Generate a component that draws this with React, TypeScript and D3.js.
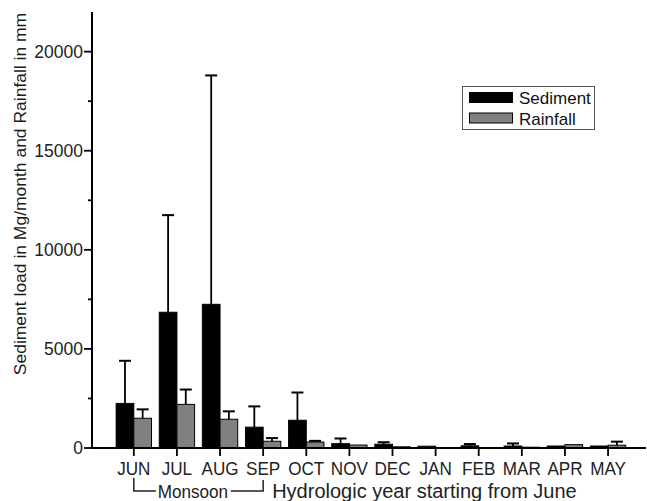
import { useEffect, useRef } from 'react';
import * as d3 from 'd3';

const months = ['JUN', 'JUL', 'AUG', 'SEP', 'OCT', 'NOV', 'DEC', 'JAN', 'FEB', 'MAR', 'APR', 'MAY'];
const sediment = [2250, 6850, 7250, 1050, 1400, 220, 190, 90, 110, 100, 100, 100];
const sedimentSD = [2150, 4900, 11550, 1050, 1400, 260, 100, 0, 90, 130, 0, 0];
const rainfall = [1500, 2200, 1450, 340, 300, 150, 60, 20, 20, 40, 170, 140];
const rainfallSD = [450, 750, 400, 160, 60, 0, 0, 0, 0, 0, 0, 180];
const yTicks = [0, 5000, 10000, 15000, 20000];
const yMinor = [2500, 7500, 12500, 17500];

const W = 647;
const H = 501;
const FONT = '"Liberation Sans", Arial, Helvetica, sans-serif';

export default function App() {
  const ref = useRef<SVGSVGElement | null>(null);
  useEffect(() => {
    const svg = d3.select(ref.current!);
    svg.selectAll('*').remove();
    svg.attr('viewBox', `0 0 ${W} ${H}`);

    const left = 92, right = 646, top = 12, bottom = 448;
    const x = d3.scaleLinear().domain([0.03, 12.88]).range([left, right]);
    const y = d3.scaleLinear().domain([0, 22000]).range([bottom, top]);
    const step = x(2) - x(1);
    const bw = step * 0.41;

    const rows = months.map((m, i) => ({ m, i: i + 1, sed: sediment[i], sedSD: sedimentSD[i], rain: rainfall[i], rainSD: rainfallSD[i] }));

    // bars
    const g = svg.append('g');
    g.selectAll('rect.sed').data(rows).enter().append('rect').attr('class', 'sed')
      .attr('x', (d) => x(d.i) - bw).attr('width', bw)
      .attr('y', (d) => y(d.sed)).attr('height', (d) => bottom - y(d.sed))
      .attr('fill', '#000').attr('stroke', '#000').attr('stroke-width', 1);
    g.selectAll('rect.rain').data(rows).enter().append('rect').attr('class', 'rain')
      .attr('x', (d) => x(d.i)).attr('width', bw)
      .attr('y', (d) => y(d.rain)).attr('height', (d) => bottom - y(d.rain))
      .attr('fill', '#808080').attr('stroke', '#000').attr('stroke-width', 1);

    // error bars (upper only)
    const errs = rows.flatMap((d) => [
      { cx: x(d.i) - bw / 2, v: d.sed, e: d.sedSD },
      { cx: x(d.i) + bw / 2, v: d.rain, e: d.rainSD },
    ]).filter((d) => d.e > 0);
    g.selectAll('line.err').data(errs).enter().append('line')
      .attr('x1', (d) => d.cx).attr('x2', (d) => d.cx)
      .attr('y1', (d) => y(d.v)).attr('y2', (d) => y(d.v + d.e))
      .attr('stroke', '#000').attr('stroke-width', 1.8);
    g.selectAll('line.cap').data(errs).enter().append('line')
      .attr('x1', (d) => d.cx - 6).attr('x2', (d) => d.cx + 6)
      .attr('y1', (d) => y(d.v + d.e)).attr('y2', (d) => y(d.v + d.e))
      .attr('stroke', '#000').attr('stroke-width', 2);

    // axes
    svg.append('line').attr('x1', left).attr('x2', left).attr('y1', top).attr('y2', bottom)
      .attr('stroke', '#000').attr('stroke-width', 2);
    svg.append('line').attr('x1', left - 1).attr('x2', right).attr('y1', bottom).attr('y2', bottom)
      .attr('stroke', '#000').attr('stroke-width', 2);

    svg.selectAll('line.ymaj').data(yTicks).enter().append('line')
      .attr('x1', left - 8).attr('x2', left).attr('y1', (d) => y(d)).attr('y2', (d) => y(d))
      .attr('stroke', '#000').attr('stroke-width', 1.8);
    svg.selectAll('line.ymin').data(yMinor).enter().append('line')
      .attr('x1', left - 4).attr('x2', left).attr('y1', (d) => y(d)).attr('y2', (d) => y(d))
      .attr('stroke', '#000').attr('stroke-width', 1.8);
    svg.selectAll('text.ylab').data(yTicks).enter().append('text')
      .attr('x', left - 9).attr('y', (d) => y(d)).attr('dy', '0.36em')
      .attr('text-anchor', 'end').attr('font-family', FONT).attr('font-size', 17.5).attr('fill', '#222')
      .text((d) => d);

    svg.selectAll('line.xt').data(rows).enter().append('line')
      .attr('x1', (d) => x(d.i)).attr('x2', (d) => x(d.i)).attr('y1', bottom).attr('y2', bottom + 8)
      .attr('stroke', '#000').attr('stroke-width', 1.8);
    svg.selectAll('text.xlab').data(rows).enter().append('text')
      .attr('transform', (d) => `translate(${x(d.i)},${bottom + 27}) scale(0.9,1)`)
      .attr('text-anchor', 'middle').attr('font-family', FONT).attr('font-size', 19).attr('fill', '#222')
      .text((d) => d.m);

    // monsoon bracket
    const bx1 = x(1), bx2 = x(4), by = bottom + 43;
    const br = svg.append('g').attr('stroke', '#222').attr('stroke-width', 1.5).attr('fill', 'none');
    br.append('path').attr('d', `M${bx1},${bottom + 30}V${by}H${bx1 + 22}`);
    br.append('path').attr('d', `M${bx1 + 97},${by}H${bx2}V${bottom + 32}`);
    svg.append('text').attr('transform', `translate(${bx1 + 24},${by + 7}) scale(0.9,1)`)
      .attr('font-family', FONT).attr('font-size', 19).attr('fill', '#222').text('Monsoon');
    svg.append('text').attr('x', bx2 + 9).attr('y', by + 7)
      .attr('font-family', FONT).attr('font-size', 20).attr('fill', '#222').text('Hydrologic year starting from June');

    // y label
    svg.append('text').attr('transform', `translate(26,194) rotate(-90) scale(1,0.9)`)
      .attr('text-anchor', 'middle').attr('font-family', FONT).attr('font-size', 17.5).attr('fill', '#1a1a1a')
      .text('Sediment load in Mg/month and Rainfall in mm');

    // legend
    const lg = svg.append('g');
    lg.append('rect').attr('x', 462.5).attr('y', 86.5).attr('width', 132).attr('height', 43)
      .attr('fill', '#fff').attr('stroke', '#555').attr('stroke-width', 1);
    const items = [{ name: 'Sediment', fill: '#000' }, { name: 'Rainfall', fill: '#808080' }];
    items.forEach((it, i) => {
      lg.append('rect').attr('x', 469.5).attr('y', 92.5 + i * 20.5).attr('width', 43).attr('height', 10)
        .attr('fill', it.fill).attr('stroke', '#000').attr('stroke-width', 1);
      lg.append('text').attr('x', 519).attr('y', 104 + i * 20.5)
        .attr('font-family', FONT).attr('font-size', 17).attr('fill', '#111').text(it.name);
    });
  }, []);
  return <svg ref={ref} width={W} height={H} style={{ position: 'absolute', left: 0, top: 0, background: '#fff' }} />;
}
